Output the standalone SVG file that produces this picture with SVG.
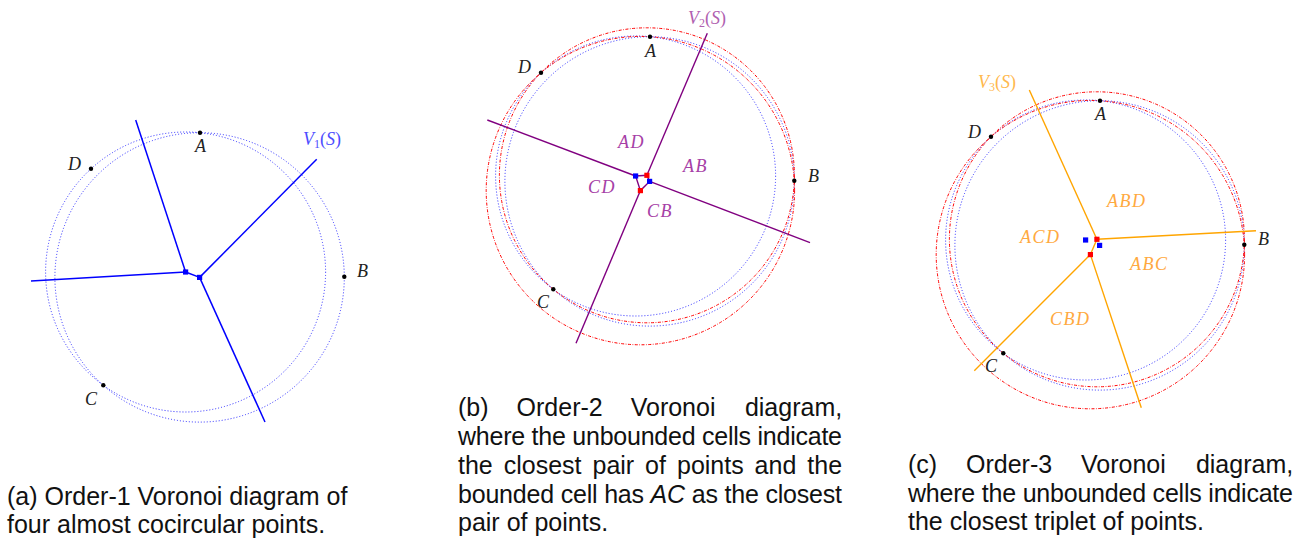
<svg xmlns="http://www.w3.org/2000/svg" width="1306" height="547" viewBox="0 0 1306 547">
<style>
.cb{fill:none;stroke:#2a2aff;stroke-width:1;stroke-dasharray:1 2}
.cr{fill:none;stroke:#ff0000;stroke-width:1;stroke-dasharray:3 1.5 0.8 1.5}
.pt{fill:#000}
.lbl{font-family:"Liberation Serif",serif;font-style:italic;font-size:18px;fill:#222}
.cell{font-family:"Liberation Serif",serif;font-style:italic;font-size:18px;letter-spacing:1.5px}
.up{font-style:normal}
.sq{stroke:none}
.cap{font-family:"Liberation Sans",sans-serif;font-size:25px;fill:#111}
.lb{stroke:#0000ff;stroke-width:1.5;fill:none}
.lp{stroke:#800080;stroke-width:1.4;fill:none}
.lo{stroke:#ffa500;stroke-width:1.4;fill:none}
</style>

<!-- Panel (a) -->
<g id="panel-a">
  <g id="a-circles">
    <circle class="cb" cx="185.6" cy="272" r="140"/>
    <circle class="cb" cx="199.6" cy="277.4" r="144.7"/>
  </g>
  <g id="a-connectors">
    <line class="lb" x1="185.6" y1="272" x2="135.7" y2="120"/>
    <line class="lb" x1="185.6" y1="272" x2="31" y2="281"/>
    <line class="lb" x1="185.6" y1="272" x2="199.6" y2="277.4"/>
    <line class="lb" x1="199.6" y1="277.4" x2="316.7" y2="159.3"/>
    <line class="lb" x1="199.6" y1="277.4" x2="265" y2="422"/>
  </g>
  <g id="a-vertices" fill="#0000ff">
    <rect class="sq" x="183" y="269.4" width="5.2" height="5.2"/>
    <rect class="sq" x="197" y="274.8" width="5.2" height="5.2"/>
  </g>
  <g id="a-A"><circle class="pt" cx="200" cy="132.7" r="2.2"/><text class="lbl" x="195" y="152">A</text></g>
  <g id="a-B"><circle class="pt" cx="344.3" cy="276.7" r="2.2"/><text class="lbl" x="357" y="277">B</text></g>
  <g id="a-C"><circle class="pt" cx="103.3" cy="385.3" r="2.2"/><text class="lbl" x="85" y="405">C</text></g>
  <g id="a-D"><circle class="pt" cx="91" cy="168.7" r="2.2"/><text class="lbl" x="68" y="170">D</text></g>
  <text class="lbl" x="303" y="145" style="fill:#4d4dff">V<tspan class="up" font-size="12" dy="3">1</tspan><tspan class="up" dy="-3">(</tspan>S<tspan class="up">)</tspan></text>
  <text class="cap" x="7" y="505">(a) Order-1 Voronoi diagram of</text>
  <text class="cap" x="7" y="533">four almost cocircular points.</text>
</g>

<!-- Panel (b) -->
<g id="panel-b">
  <g id="b-circles">
    <circle class="cb" cx="635.6" cy="176" r="140"/>
    <circle class="cb" cx="649.6" cy="181.4" r="144.7"/>
    <circle class="cr" cx="646.9" cy="175.3" r="147.5"/>
    <circle class="cr" cx="640.4" cy="190.6" r="154.2"/>
  </g>
  <g id="b-connectors">
    <line class="lp" x1="487.3" y1="120" x2="635.6" y2="176"/>
    <line class="lp" x1="649.6" y1="181.4" x2="810" y2="242.7"/>
    <line class="lp" x1="646.9" y1="175.3" x2="707.3" y2="33.3"/>
    <line class="lp" x1="640.4" y1="190.6" x2="576" y2="343.3"/>
    <polygon class="lp" stroke-width="1" points="635.6,176 646.9,175.3 649.6,181.4 640.4,190.6"/>
  </g>
  <g id="b-vertices">
    <rect class="sq" fill="#0000ff" x="633" y="173.4" width="5.2" height="5.2"/>
    <rect class="sq" fill="#0000ff" x="647" y="178.8" width="5.2" height="5.2"/>
    <rect class="sq" fill="#ff0000" x="644.3" y="172.7" width="5.2" height="5.2"/>
    <rect class="sq" fill="#ff0000" x="637.8" y="188" width="5.2" height="5.2"/>
  </g>
  <g id="b-A"><circle class="pt" cx="650" cy="36.7" r="2.2"/><text class="lbl" x="645" y="57">A</text></g>
  <g id="b-B"><circle class="pt" cx="794.3" cy="180.7" r="2.2"/><text class="lbl" x="808" y="182">B</text></g>
  <g id="b-C"><circle class="pt" cx="553.3" cy="289.3" r="2.2"/><text class="lbl" x="537" y="308">C</text></g>
  <g id="b-D"><circle class="pt" cx="541" cy="72.7" r="2.2"/><text class="lbl" x="518" y="73">D</text></g>
  <g id="b-cells" fill="#a640a6">
    <text class="cell" x="618" y="148">AD</text>
    <text class="cell" x="683" y="172">AB</text>
    <text class="cell" x="588" y="193">CD</text>
    <text class="cell" x="647" y="217">CB</text>
  </g>
  <text class="lbl" x="688" y="24" style="fill:#b060b0">V<tspan class="up" font-size="12" dy="3">2</tspan><tspan class="up" dy="-3">(</tspan>S<tspan class="up">)</tspan></text>
  <g id="b-caption" class="cap">
    <text x="458" y="416">(b)</text><text x="516.6" y="416">Order-2</text><text x="630.7" y="416">Voronoi</text><text x="744.9" y="416">diagram,</text>
    <text x="458" y="445" textLength="384" lengthAdjust="spacing">where the unbounded cells indicate</text>
    <text x="458" y="474">the</text><text x="503.7" y="474">closest</text><text x="592.5" y="474">pair</text><text x="645.1" y="474">of</text><text x="677" y="474">points</text><text x="754.6" y="474">and</text><text x="807.3" y="474">the</text>
    <text x="458" y="503" textLength="384" lengthAdjust="spacing">bounded cell has <tspan font-style="italic">AC</tspan> as the closest</text>
    <text x="458" y="531">pair of points.</text>
  </g>
</g>

<!-- Panel (c) -->
<g id="panel-c">
  <g id="c-circles">
    <circle class="cb" cx="1085.6" cy="240" r="140"/>
    <circle class="cb" cx="1099.6" cy="245.4" r="144.7"/>
    <circle class="cr" cx="1096.9" cy="239.3" r="147.5"/>
    <circle class="cr" cx="1090.4" cy="254.6" r="154.2"/>
  </g>
  <g id="c-connectors">
    <line class="lo" x1="1096.9" y1="239.3" x2="1029.3" y2="90"/>
    <line class="lo" x1="1096.9" y1="239.3" x2="1256" y2="230.7"/>
    <line class="lo" x1="1096.9" y1="239.3" x2="1090.4" y2="254.6"/>
    <line class="lo" x1="1090.4" y1="254.6" x2="974.3" y2="370.7"/>
    <line class="lo" x1="1090.4" y1="254.6" x2="1141.3" y2="407.7"/>
  </g>
  <g id="c-vertices">
    <rect class="sq" fill="#0000ff" x="1083" y="237.4" width="5.2" height="5.2"/>
    <rect class="sq" fill="#0000ff" x="1097" y="242.8" width="5.2" height="5.2"/>
    <rect class="sq" fill="#ff0000" x="1094.3" y="236.7" width="5.2" height="5.2"/>
    <rect class="sq" fill="#ff0000" x="1087.8" y="252" width="5.2" height="5.2"/>
  </g>
  <g id="c-A"><circle class="pt" cx="1100" cy="100.7" r="2.2"/><text class="lbl" x="1095" y="120">A</text></g>
  <g id="c-B"><circle class="pt" cx="1244.3" cy="244.7" r="2.2"/><text class="lbl" x="1258" y="245">B</text></g>
  <g id="c-C"><circle class="pt" cx="1003.3" cy="353.3" r="2.2"/><text class="lbl" x="985" y="372">C</text></g>
  <g id="c-D"><circle class="pt" cx="991" cy="136.7" r="2.2"/><text class="lbl" x="968" y="138">D</text></g>
  <g id="c-cells" fill="#ffa940">
    <text class="cell" x="1107" y="207">ABD</text>
    <text class="cell" x="1020" y="243">ACD</text>
    <text class="cell" x="1130" y="270">ABC</text>
    <text class="cell" x="1050" y="325">CBD</text>
  </g>
  <text class="lbl" x="978" y="88" style="fill:#ffb84d">V<tspan class="up" font-size="12" dy="3">3</tspan><tspan class="up" dy="-3">(</tspan>S<tspan class="up">)</tspan></text>
  <g id="c-caption" class="cap">
    <text x="908" y="473">(c)</text><text x="966" y="473">Order-3</text><text x="1081" y="473">Voronoi</text><text x="1195.9" y="473">diagram,</text>
    <text x="908" y="502" textLength="385" lengthAdjust="spacing">where the unbounded cells indicate</text>
    <text x="908" y="530">the closest triplet of points.</text>
  </g>
</g>
</svg>
